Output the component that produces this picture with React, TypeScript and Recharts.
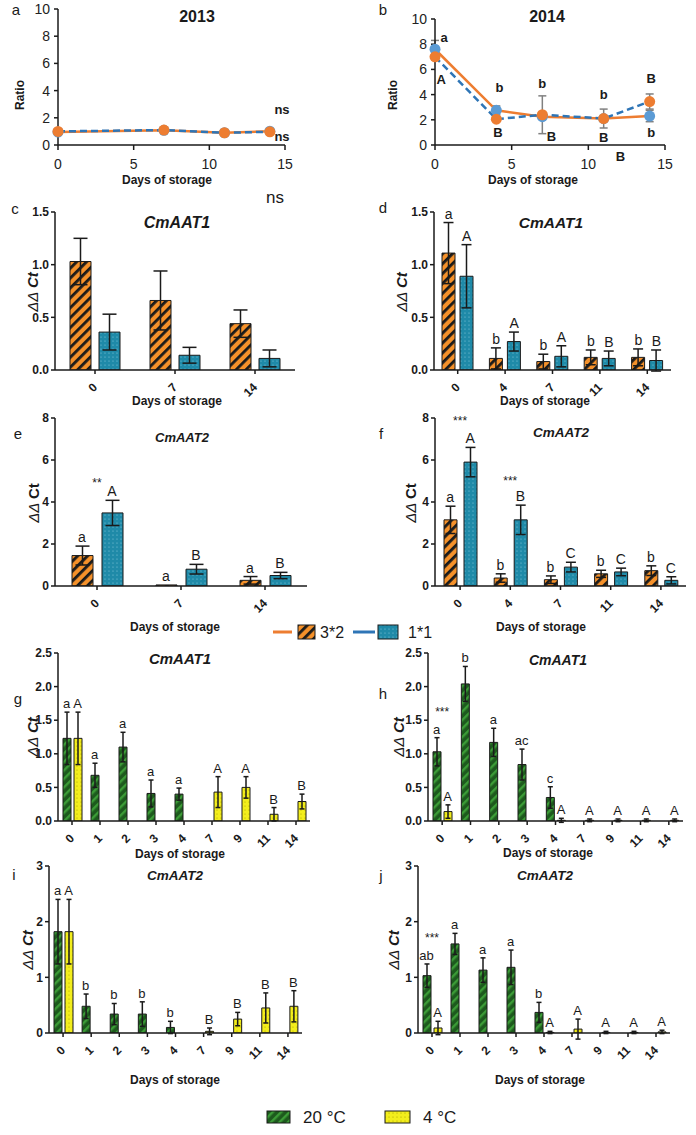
import React from "react";
import { BarChart, Bar, XAxis, YAxis, ErrorBar, LineChart, Line, ReferenceDot } from "recharts";

const FONT = "'Liberation Sans', Arial, sans-serif";
const INK = "#1a1a1a";
const ORANGE = "#ed7d31";
const BLUE_LINE = "#2e75b6";
const BLUE_DOT = "#5b9bd5";

// a) 2013 ratio (solid line carries the blue markers, dashed the orange ones, as in the figure)
const days2013 = [0, 7, 11, 14];
const solid2013 = [0.95, 1.08, 0.9, 1.02];
const dashed2013 = [1.0, 1.1, 0.9, 0.97];
const notes2013 = [
  { x: 14.8, y: 2.6, t: "ns" },
  { x: 14.8, y: 0.59, t: "ns" },
];

// b) 2014 ratio
const days2014 = [0, 4, 7, 11, 14];
const solid2014 = [7.6, 2.75, 2.25, 2.1, 2.3];
const solidErr2014 = [0.7, 0.35, 0, 0.75, 0.45];
const dashed2014 = [7.0, 2.05, 2.4, 2.1, 3.45];
const dashedErr2014 = [0, 0, 1.5, 0, 0.6];
const notes2014 = [
  { x: 0.6, y: 8.57, t: "a" },
  { x: 0.4, y: 5.2, t: "A" },
  { x: 4.2, y: 4.6, t: "b" },
  { x: 4.1, y: 1.0, t: "B" },
  { x: 7.0, y: 4.9, t: "b" },
  { x: 7.6, y: 0.7, t: "B" },
  { x: 11.0, y: 4.0, t: "b" },
  { x: 11.0, y: 0.6, t: "B" },
  { x: 14.1, y: 5.3, t: "B" },
  { x: 14.1, y: 1.0, t: "b" },
  { x: 12.1, y: -0.9, t: "B" },
];

// c) CmAAT1, 2013
const daysC = ["0", "7", "14"];
const orangeC = [1.03, 0.66, 0.44];
const orangeErrC = [0.22, 0.28, 0.13];
const blueC = [0.36, 0.14, 0.11];
const blueErrC = [0.17, 0.075, 0.08];

// d) CmAAT1, 2014
const daysD = ["0", "4", "7", "11", "14"];
const orangeD = [1.11, 0.11, 0.08, 0.12, 0.12];
const orangeErrD = [0.29, 0.1, 0.07, 0.07, 0.08];
const orangeLetD = ["a", "b", "b", "b", "b"];
const blueD = [0.89, 0.27, 0.13, 0.11, 0.09];
const blueErrD = [0.3, 0.09, 0.1, 0.07, 0.1];
const blueLetD = ["A", "A", "A", "B", "B"];

// e) CmAAT2, 2013
const daysE = ["0", "7", "14"];
const orangeE = [1.45, 0.05, 0.27];
const orangeErrE = [0.45, 0, 0.18];
const orangeLetE = ["a", "a", "a"];
const blueE = [3.48, 0.8, 0.5];
const blueErrE = [0.6, 0.23, 0.15];
const blueLetE = ["A", "B", "B"];
const sigE = [{ day: "0", y: 4.9, t: "**" }];

// f) CmAAT2, 2014
const daysF = ["0", "4", "7", "11", "14"];
const orangeF = [3.15, 0.38, 0.3, 0.58, 0.73];
const orangeErrF = [0.65, 0.2, 0.18, 0.17, 0.23];
const orangeLetF = ["a", "b", "b", "b", "b"];
const blueF = [5.9, 3.15, 0.9, 0.67, 0.27];
const blueErrF = [0.7, 0.7, 0.23, 0.18, 0.17];
const blueLetF = ["A", "B", "C", "C", "C"];
const sigF = [
  { day: "0", y: 7.85, t: "***" },
  { day: "4", y: 5.0, t: "***" },
];

// g-j) 20 °C vs 4 °C
const daysTemp = ["0", "1", "2", "3", "4", "7", "9", "11", "14"];

const greenG = [1.23, 0.68, 1.1, 0.41, 0.4, null, null, null, null];
const greenErrG = [0.39, 0.18, 0.22, 0.2, 0.09, null, null, null, null];
const greenLetG = ["a", "a", "a", "a", "a", "", "", "", ""];
const yellowG = [1.23, null, null, null, null, 0.43, 0.5, 0.1, 0.29];
const yellowErrG = [0.39, null, null, null, null, 0.23, 0.16, 0.1, 0.11];
const yellowLetG = ["A", "", "", "", "", "A", "A", "B", "B"];

const greenH = [1.03, 2.04, 1.17, 0.84, 0.35, null, null, null, null];
const greenErrH = [0.21, 0.26, 0.21, 0.23, 0.16, null, null, null, null];
const greenLetH = ["a", "b", "a", "ac", "c", "", "", "", ""];
const yellowH = [0.14, null, null, null, 0.01, 0.01, 0.01, 0.01, 0.01];
const yellowErrH = [0.1, null, null, null, 0.03, 0.02, 0.02, 0.02, 0.02];
const yellowLetH = ["A", "", "", "", "A", "A", "A", "A", "A"];
const sigH = [{ day: "0", y: 1.62, t: "***" }];

const greenI = [1.82, 0.48, 0.34, 0.34, 0.1, null, null, null, null];
const greenErrI = [0.58, 0.22, 0.19, 0.22, 0.11, null, null, null, null];
const greenLetI = ["a", "b", "b", "b", "b", "", "", "", ""];
const yellowI = [1.82, null, null, null, null, 0.03, 0.25, 0.45, 0.48];
const yellowErrI = [0.58, null, null, null, null, 0.06, 0.12, 0.27, 0.28];
const yellowLetI = ["A", "", "", "", "", "B", "B", "B", "B"];

const greenJ = [1.03, 1.6, 1.13, 1.18, 0.37, null, null, null, null];
const greenErrJ = [0.21, 0.19, 0.22, 0.31, 0.18, null, null, null, null];
const greenLetJ = ["ab", "a", "a", "a", "b", "", "", "", ""];
const yellowJ = [0.09, null, null, null, 0.01, 0.07, 0.01, 0.01, 0.02];
const yellowErrJ = [0.12, null, null, null, 0.02, 0.18, 0.02, 0.02, 0.03];
const yellowLetJ = ["A", "", "", "", "A", "A", "A", "A", "A"];
const sigJ = [{ day: "0", y: 1.7, t: "***" }];

type Note = { x: number; y: number; t: string };
type Sig = { day: string; y: number; t: string };
type Num = number | null;

const RotTick = (props: any) => {
  const { x, y, payload } = props;
  const ax = x + 3;
  const ay = y + 12;
  return (
    <text
      x={ax}
      y={ay}
      transform={`rotate(-45 ${ax} ${ay})`}
      textAnchor="end"
      fontFamily={FONT}
      fontWeight="bold"
      fontSize={12}
      fill={INK}
    >
      {payload.value}
    </text>
  );
};

function RatioPanel(p: {
  left: number;
  axisX: number;
  plotRight: number;
  plotTop: number;
  days: number[];
  solid: number[];
  dashed: number[];
  solidErr?: number[];
  dashedErr?: number[];
  notes: Note[];
}) {
  const height = 190;
  const rows = p.days.map((d, i) => ({
    day: d,
    solid: p.solid[i],
    dashed: p.dashed[i],
    solidErr: p.solidErr ? p.solidErr[i] : 0,
    dashedErr: p.dashedErr ? p.dashedErr[i] : 0,
  }));
  return (
    <div style={{ position: "absolute", left: p.left, top: 0, width: 348, height }}>
      <LineChart
        width={348}
        height={height}
        data={rows}
        margin={{ top: p.plotTop, right: p.left + 348 - p.plotRight, bottom: 15, left: p.axisX - p.left - 30 }}
      >
        <XAxis
          dataKey="day"
          type="number"
          domain={[0, 15]}
          ticks={[0, 5, 10, 15]}
          height={30}
          tickSize={5}
          tickMargin={9}
          axisLine={{ stroke: INK, strokeWidth: 1.5 }}
          tickLine={{ stroke: INK, strokeWidth: 1.5 }}
          tick={{ fill: "#222", fontSize: 14, fontFamily: FONT }}
        />
        <YAxis
          width={30}
          domain={[0, 10]}
          ticks={[0, 2, 4, 6, 8, 10]}
          tickSize={4}
          tickMargin={4}
          axisLine={{ stroke: INK, strokeWidth: 1.5 }}
          tickLine={{ stroke: INK, strokeWidth: 1.5 }}
          tick={{ fill: "#222", fontSize: 14, fontFamily: FONT }}
        />
        <Line
          dataKey="solid"
          type="linear"
          stroke={ORANGE}
          strokeWidth={2.5}
          dot={{ r: 5.5, fill: BLUE_DOT, stroke: BLUE_DOT, strokeWidth: 0 }}
          isAnimationActive={false}
        >
          {p.solidErr && <ErrorBar dataKey="solidErr" direction="y" width={4} stroke="#808080" strokeWidth={1.5} />}
        </Line>
        <Line
          dataKey="dashed"
          type="linear"
          stroke={BLUE_LINE}
          strokeWidth={2.5}
          strokeDasharray="7 4"
          dot={{ r: 5.5, fill: ORANGE, stroke: ORANGE, strokeWidth: 0 }}
          isAnimationActive={false}
        >
          {p.dashedErr && <ErrorBar dataKey="dashedErr" direction="y" width={4} stroke="#808080" strokeWidth={1.5} />}
        </Line>
        {p.notes.map((n, i) => (
          <ReferenceDot
            key={"n" + i}
            x={n.x}
            y={n.y}
            r={0}
            ifOverflow="visible"
            shape={(s: any) => (
              <text
                x={s.cx}
                y={s.cy}
                textAnchor="middle"
                dominantBaseline="central"
                fontFamily={FONT}
                fontWeight="bold"
                fontSize={13}
                fill={INK}
              >
                {n.t}
              </text>
            )}
          />
        ))}
      </LineChart>
    </div>
  );
}

function BarPanel(p: {
  left: number;
  axisX: number;
  plotRight: number;
  plotTop: number;
  plotBottom: number;
  days: string[];
  v1: Num[];
  e1: Num[];
  l1?: string[];
  v2: Num[];
  e2: Num[];
  l2?: string[];
  fill1: string;
  fill2: string;
  yMax: number;
  yTicks: number[];
  decimals: number;
  barSize: number;
  barGap: number;
  cap: number;
  letterSize: number;
  sig?: Sig[];
}) {
  const padTop = 24;
  const axisH = 34;
  const yW = 40;
  const top = p.plotTop - padTop;
  const height = p.plotBottom - p.plotTop + padTop + axisH;
  const rows = p.days.map((d, i) => ({ day: d, v1: p.v1[i], e1: p.e1[i], v2: p.v2[i], e2: p.e2[i] }));
  const shift = (p.barSize + p.barGap) / 2;

  const letters = (vals: Num[], errs: Num[], lets: string[] | undefined, dx: number, key: string) =>
    (lets || []).map((t, i) => {
      const v = vals[i];
      if (!t || v == null) return null;
      return (
        <ReferenceDot
          key={key + i}
          x={p.days[i]}
          y={v + (errs[i] ?? 0)}
          r={0}
          ifOverflow="visible"
          shape={(s: any) => (
            <text
              x={s.cx + dx}
              y={s.cy - 4}
              textAnchor="middle"
              fontFamily={FONT}
              fontSize={p.letterSize}
              fill={INK}
            >
              {t}
            </text>
          )}
        />
      );
    });

  return (
    <div style={{ position: "absolute", left: p.left, top, width: 348, height }}>
      <BarChart
        width={348}
        height={height}
        data={rows}
        barSize={p.barSize}
        barGap={p.barGap}
        margin={{ top: padTop, right: p.left + 348 - p.plotRight, bottom: 0, left: p.axisX - p.left - yW }}
      >
        <XAxis
          dataKey="day"
          interval={0}
          height={axisH}
          tickSize={4}
          tickMargin={2}
          axisLine={{ stroke: INK, strokeWidth: 1.5 }}
          tickLine={{ stroke: INK, strokeWidth: 1.5 }}
          tick={RotTick}
        />
        <YAxis
          width={yW}
          domain={[0, p.yMax]}
          ticks={p.yTicks}
          allowDataOverflow
          tickSize={4}
          tickMargin={2}
          tickFormatter={(v: number) => v.toFixed(p.decimals)}
          axisLine={{ stroke: INK, strokeWidth: 1.5 }}
          tickLine={{ stroke: INK, strokeWidth: 1.5 }}
          tick={{ fill: INK, fontSize: 12, fontWeight: "bold", fontFamily: FONT }}
        />
        <Bar dataKey="v1" fill={p.fill1} stroke={INK} strokeWidth={1} isAnimationActive={false}>
          <ErrorBar dataKey="e1" width={p.cap} stroke={INK} strokeWidth={1.5} />
        </Bar>
        <Bar dataKey="v2" fill={p.fill2} stroke={INK} strokeWidth={1} isAnimationActive={false}>
          <ErrorBar dataKey="e2" width={p.cap} stroke={INK} strokeWidth={1.5} />
        </Bar>
        {letters(p.v1, p.e1, p.l1, -shift, "l1-")}
        {letters(p.v2, p.e2, p.l2, shift, "l2-")}
        {(p.sig || []).map((s, i) => (
          <ReferenceDot
            key={"s" + i}
            x={s.day}
            y={s.y}
            r={0}
            ifOverflow="visible"
            shape={(d: any) => (
              <text x={d.cx} y={d.cy} textAnchor="middle" dominantBaseline="central" fontFamily={FONT} fontSize={12} fill={INK}>
                {s.t}
              </text>
            )}
          />
        ))}
      </BarChart>
    </div>
  );
}

const txt = { fontFamily: FONT, fill: INK } as const;

function Label(p: { x: number; y: number; t: string; size?: number; bold?: boolean; italic?: boolean; rot?: boolean }) {
  return (
    <text
      x={p.x}
      y={p.y}
      textAnchor="middle"
      dominantBaseline="central"
      fontSize={p.size ?? 15}
      fontWeight={p.bold ? "bold" : "normal"}
      fontStyle={p.italic ? "italic" : "normal"}
      transform={p.rot ? `rotate(-90 ${p.x} ${p.y})` : undefined}
      {...txt}
    >
      {p.t}
    </text>
  );
}

function DdCt(p: { x: number; y: number; italicCt?: boolean }) {
  return (
    <text
      x={p.x}
      y={p.y}
      textAnchor="middle"
      dominantBaseline="central"
      fontSize={15}
      transform={`rotate(-90 ${p.x} ${p.y})`}
      {...txt}
    >
      <tspan fontStyle="italic">ΔΔ </tspan>
      <tspan fontWeight="bold" fontStyle={p.italicCt === false ? "normal" : "italic"}>
        Ct
      </tspan>
    </text>
  );
}

export default function App() {
  const fillOrange = "url(#hatchOrange)";
  const fillBlue = "url(#dotBlue)";
  const fillGreen = "url(#hatchGreen)";
  const fillYellow = "url(#dotYellow)";
  return (
    <div style={{ position: "absolute", left: 0, top: 0, width: 696, height: 1135, background: "#fff", overflow: "hidden" }}>
      <RatioPanel left={0} axisX={58} plotRight={285} plotTop={9} days={days2013} solid={solid2013} dashed={dashed2013} notes={notes2013} />
      <RatioPanel
        left={348}
        axisX={435}
        plotRight={665}
        plotTop={19}
        days={days2014}
        solid={solid2014}
        dashed={dashed2014}
        solidErr={solidErr2014}
        dashedErr={dashedErr2014}
        notes={notes2014}
      />

      <BarPanel
        left={0} axisX={55} plotRight={295} plotTop={212} plotBottom={370}
        days={daysC} v1={orangeC} e1={orangeErrC} v2={blueC} e2={blueErrC}
        fill1={fillOrange} fill2={fillBlue} yMax={1.5} yTicks={[0, 0.5, 1, 1.5]} decimals={1}
        barSize={21} barGap={8} cap={7} letterSize={14}
      />
      <BarPanel
        left={348} axisX={434} plotRight={671} plotTop={212} plotBottom={370}
        days={daysD} v1={orangeD} e1={orangeErrD} l1={orangeLetD} v2={blueD} e2={blueErrD} l2={blueLetD}
        fill1={fillOrange} fill2={fillBlue} yMax={1.5} yTicks={[0, 0.5, 1, 1.5]} decimals={1}
        barSize={13} barGap={5} cap={5} letterSize={14}
      />
      <BarPanel
        left={0} axisX={55} plotRight={307} plotTop={418} plotBottom={586}
        days={daysE} v1={orangeE} e1={orangeErrE} l1={orangeLetE} v2={blueE} e2={blueErrE} l2={blueLetE}
        fill1={fillOrange} fill2={fillBlue} yMax={8} yTicks={[0, 2, 4, 6, 8]} decimals={0}
        barSize={21} barGap={9} cap={7} letterSize={14} sig={sigE}
      />
      <BarPanel
        left={348} axisX={435} plotRight={686} plotTop={418} plotBottom={586}
        days={daysF} v1={orangeF} e1={orangeErrF} l1={orangeLetF} v2={blueF} e2={blueErrF} l2={blueLetF}
        fill1={fillOrange} fill2={fillBlue} yMax={8} yTicks={[0, 2, 4, 6, 8]} decimals={0}
        barSize={13} barGap={7} cap={5} letterSize={14} sig={sigF}
      />
      <BarPanel
        left={0} axisX={58} plotRight={310} plotTop={653} plotBottom={821}
        days={daysTemp} v1={greenG} e1={greenErrG} l1={greenLetG} v2={yellowG} e2={yellowErrG} l2={yellowLetG}
        fill1={fillGreen} fill2={fillYellow} yMax={2.5} yTicks={[0, 0.5, 1, 1.5, 2, 2.5]} decimals={1}
        barSize={8} barGap={3} cap={2.5} letterSize={13}
      />
      <BarPanel
        left={348} axisX={428} plotRight={683} plotTop={653} plotBottom={821}
        days={daysTemp} v1={greenH} e1={greenErrH} l1={greenLetH} v2={yellowH} e2={yellowErrH} l2={yellowLetH}
        fill1={fillGreen} fill2={fillYellow} yMax={2.5} yTicks={[0, 0.5, 1, 1.5, 2, 2.5]} decimals={1}
        barSize={8} barGap={3} cap={2.5} letterSize={13} sig={sigH}
      />
      <BarPanel
        left={0} axisX={49} plotRight={302} plotTop={866} plotBottom={1033}
        days={daysTemp} v1={greenI} e1={greenErrI} l1={greenLetI} v2={yellowI} e2={yellowErrI} l2={yellowLetI}
        fill1={fillGreen} fill2={fillYellow} yMax={3} yTicks={[0, 1, 2, 3]} decimals={0}
        barSize={8} barGap={3} cap={2.5} letterSize={13}
      />
      <BarPanel
        left={348} axisX={418} plotRight={670} plotTop={866} plotBottom={1033}
        days={daysTemp} v1={greenJ} e1={greenErrJ} l1={greenLetJ} v2={yellowJ} e2={yellowErrJ} l2={yellowLetJ}
        fill1={fillGreen} fill2={fillYellow} yMax={3} yTicks={[0, 1, 2, 3]} decimals={0}
        barSize={8} barGap={3} cap={2.5} letterSize={13} sig={sigJ}
      />

      <svg width={696} height={1135} style={{ position: "absolute", left: 0, top: 0, pointerEvents: "none" }}>
        <defs>
          <pattern id="hatchOrange" width="7" height="7" patternUnits="userSpaceOnUse" patternTransform="rotate(45)">
            <rect width="7" height="7" fill="#f5912a" />
            <rect width="2.8" height="7" fill="#1a1a1a" />
          </pattern>
          <pattern id="dotBlue" width="4" height="4" patternUnits="userSpaceOnUse">
            <rect width="4" height="4" fill="#1f8aa8" />
            <circle cx="1" cy="1" r="0.6" fill="#86cadd" />
          </pattern>
          <pattern id="hatchGreen" width="6" height="6" patternUnits="userSpaceOnUse" patternTransform="rotate(45)">
            <rect width="6" height="6" fill="#1d5a1d" />
            <rect width="2.4" height="6" fill="#3c9c37" />
          </pattern>
          <pattern id="dotYellow" width="4" height="4" patternUnits="userSpaceOnUse">
            <rect width="4" height="4" fill="#f3ee1c" />
            <circle cx="1" cy="1" r="0.6" fill="#a9a200" />
          </pattern>
        </defs>

        {/* panel letters */}
        <Label x={16} y={9} t="a" />
        <Label x={383} y={9} t="b" />
        <Label x={15} y={208} t="c" />
        <Label x={383} y={207} t="d" />
        <Label x={18} y={433} t="e" />
        <Label x={381} y={433} t="f" />
        <Label x={18} y={698} t="g" />
        <Label x={383} y={693} t="h" />
        <Label x={14} y={874} t="i" />
        <Label x={381} y={875} t="j" />

        {/* titles */}
        <Label x={197} y={16} t="2013" size={16} bold />
        <Label x={547} y={16} t="2014" size={16} bold />
        <Label x={177} y={222} t="CmAAT1" size={16} bold italic />
        <Label x={551} y={222} t="CmAAT1" size={15.5} bold italic />
        <Label x={182} y={437} t="CmAAT2" size={13} bold italic />
        <Label x={561} y={432} t="CmAAT2" size={13.5} bold italic />
        <Label x={180} y={658} t="CmAAT1" size={15} bold italic />
        <Label x={558} y={660} t="CmAAT1" size={14} bold italic />
        <Label x={175} y={875} t="CmAAT2" size={13.5} bold italic />
        <Label x={545} y={875} t="CmAAT2" size={13.5} bold italic />

        {/* axis titles */}
        <Label x={20} y={95} t="Ratio" size={12} bold rot />
        <Label x={393} y={95} t="Ratio" size={12} bold rot />
        <DdCt x={32} y={292} />
        <DdCt x={401} y={292} />
        <DdCt x={33} y={503} italicCt={false} />
        <DdCt x={410} y={503} italicCt={false} />
        <DdCt x={32} y={737} />
        <DdCt x={398} y={737} />
        <DdCt x={27} y={950} />
        <DdCt x={393} y={950} />

        <Label x={167} y={180} t="Days of storage" size={12} bold />
        <Label x={533} y={180} t="Days of storage" size={12} bold />
        <Label x={177} y={401} t="Days of storage" size={12} bold />
        <Label x={545} y={401} t="Days of storage" size={12} bold />
        <Label x={175} y={627} t="Days of storage" size={12} bold />
        <Label x={541} y={627} t="Days of storage" size={12} bold />
        <Label x={180} y={854} t="Days of storage" size={12} bold />
        <Label x={548} y={853} t="Days of storage" size={12} bold />
        <Label x={175} y={1080} t="Days of storage" size={12} bold />
        <Label x={540} y={1080} t="Days of storage" size={12} bold />

        <Label x={275} y={197} t="ns" size={17} />

        {/* legend: genotypes */}
        <line x1={273} y1={632} x2={292} y2={632} stroke={ORANGE} strokeWidth={3} />
        <rect x={298} y={625} width={17} height={14} fill="url(#hatchOrange)" stroke={INK} strokeWidth={1} />
        <text x={320} y={632} dominantBaseline="central" fontSize={16} {...txt}>3*2</text>
        <line x1={353} y1={632} x2={375} y2={632} stroke={BLUE_LINE} strokeWidth={3} />
        <rect x={378} y={625} width={20} height={14} fill="url(#dotBlue)" stroke={INK} strokeWidth={1} />
        <text x={408} y={632} dominantBaseline="central" fontSize={16} {...txt}>1*1</text>

        {/* legend: temperature */}
        <rect x={267} y={1111} width={23} height={12} fill="url(#hatchGreen)" stroke={INK} strokeWidth={1} />
        <text x={303} y={1117} dominantBaseline="central" fontSize={17} {...txt}>20 °C</text>
        <rect x={385} y={1111} width={25} height={12} fill="url(#dotYellow)" stroke={INK} strokeWidth={1} />
        <text x={423} y={1117} dominantBaseline="central" fontSize={17} {...txt}>4 °C</text>
      </svg>
    </div>
  );
}
